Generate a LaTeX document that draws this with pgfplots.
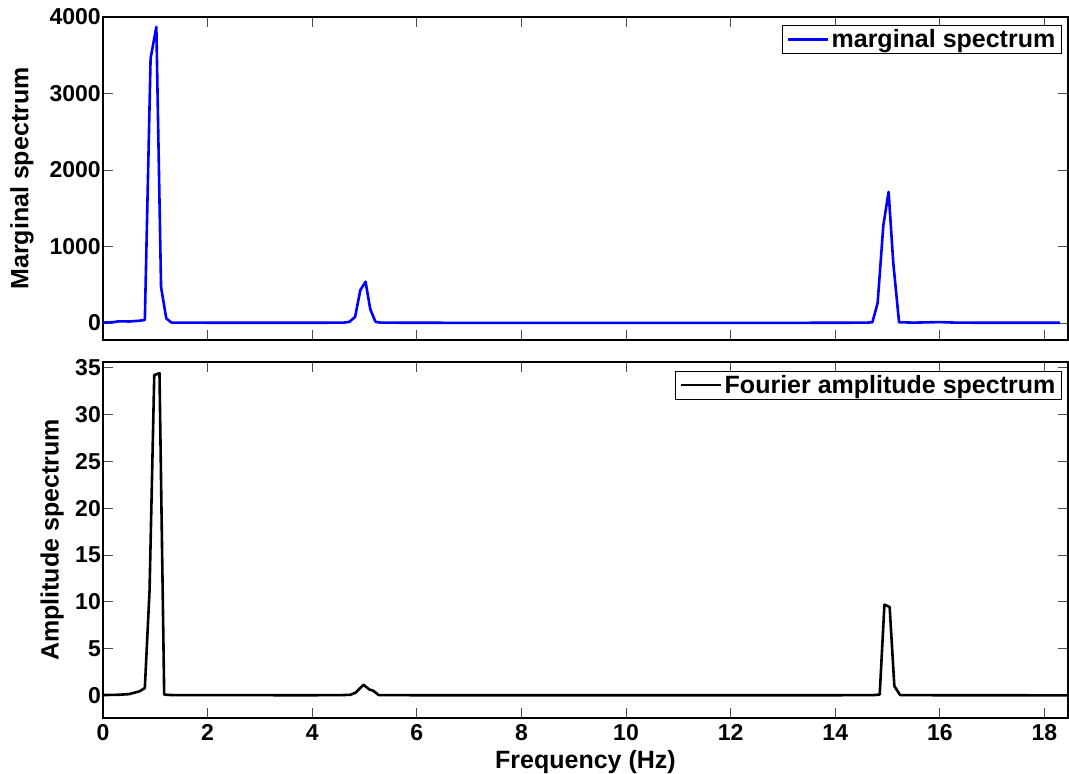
\documentclass[border=0pt]{standalone}
\usepackage{fontspec}
\setmainfont{Liberation Sans}
\usepackage{pgfplots}
\pgfplotsset{compat=1.18}
\begin{document}
\begin{tikzpicture}
\useasboundingbox (0,0) rectangle (1069pt,774pt);
\pgfplotsset{
  every axis/.style={
    scale only axis,
    width=965pt,
    xmin=0, xmax=18.45,
    xtick={0,2,...,18},
    tick align=inside,
    major tick length=10pt,
    axis line style={line width=1.2pt},
    every tick/.style={line width=0.8pt, black!70},
    tick label style={font=\bfseries\fontsize{23}{26}\selectfont},
    label style={font=\bfseries\fontsize{25}{28}\selectfont},
    /pgf/number format/assume math mode=true,
    scaled y ticks=false,
    yticklabel style={/pgf/number format/fixed, /pgf/number format/1000 sep={}, inner sep=2pt},
    legend style={font=\bfseries\fontsize{25}{28}\selectfont, draw=black, line width=0.8pt, inner xsep=4pt, inner ysep=1.5pt,
      at={(0.994,0.975)}, anchor=north east, nodes={inner sep=2.5pt}},
    legend cell align=left,
    legend image code/.code={\draw[#1, line width=2.6pt] (0pt,0pt) -- (40pt,0pt);},
  }
}
\begin{axis}[
  at={(103pt,434pt)}, anchor=south west,
  height=323pt,
  ymin=-222, ymax=4000,
  ytick={0,1000,2000,3000,4000},
  xticklabels={},
  ylabel={Marginal spectrum},
  ylabel style={at={(axis description cs:-0.0839,0.5)}, anchor=center},
]
\addplot[blue, line width=2.6pt, line join=round] coordinates {
(0,5)(0.1,8)(0.2,12)(0.3,22)(0.5,20)(0.7,30)(0.8,40)(0.91,3460)(1.02,3870)(1.11,470)(1.21,60)(1.31,5)
(2.0,4)(3.0,3)(4.0,3)(4.6,5)(4.71,15)(4.82,80)(4.92,430)(5.02,540)(5.11,180)(5.21,15)(5.31,5)
(6,3)(8,2)(10,2)(12,2)(14,3)(14.61,5)(14.71,10)(14.81,260)(14.92,1280)(15.02,1715)(15.11,780)(15.22,10)
(15.5,5)(16.0,12)(16.3,5)(17,3)(18.3,3)
};
\addlegendentry{marginal spectrum}
\end{axis}
\begin{axis}[
  at={(103pt,56pt)}, anchor=south west,
  height=356pt,
  ymin=-2.4, ymax=35.6,
  ytick={0,5,...,35},
  xlabel={Frequency (Hz)},
  ylabel={Amplitude spectrum},
  xticklabel style={yshift=-3pt},
  xlabel style={at={(axis description cs:0.5,0)}, anchor=base, yshift=-50pt},
  ylabel style={at={(axis description cs:-0.0528,0.5)}, anchor=center},
]
\addplot[black, line width=2.6pt, line join=round] coordinates {
(0,0.05)(0.3,0.08)(0.5,0.15)(0.6,0.3)(0.7,0.45)(0.8,0.8)(0.89,11.2)(0.98,34.2)(1.08,34.4)(1.17,0.1)(1.3,0.05)
(2,0.04)(4,0.03)(4.6,0.05)(4.73,0.08)(4.83,0.3)(4.98,1.15)(5.09,0.65)(5.17,0.5)(5.27,0.05)
(6,0.03)(10,0.03)(14,0.03)(14.75,0.05)(14.85,0.1)(14.94,9.7)(15.04,9.45)(15.13,1.0)(15.24,0.05)
(16,0.03)(18.45,0.02)
};
\addlegendentry{Fourier amplitude spectrum}
\end{axis}
\end{tikzpicture}
\end{document}
